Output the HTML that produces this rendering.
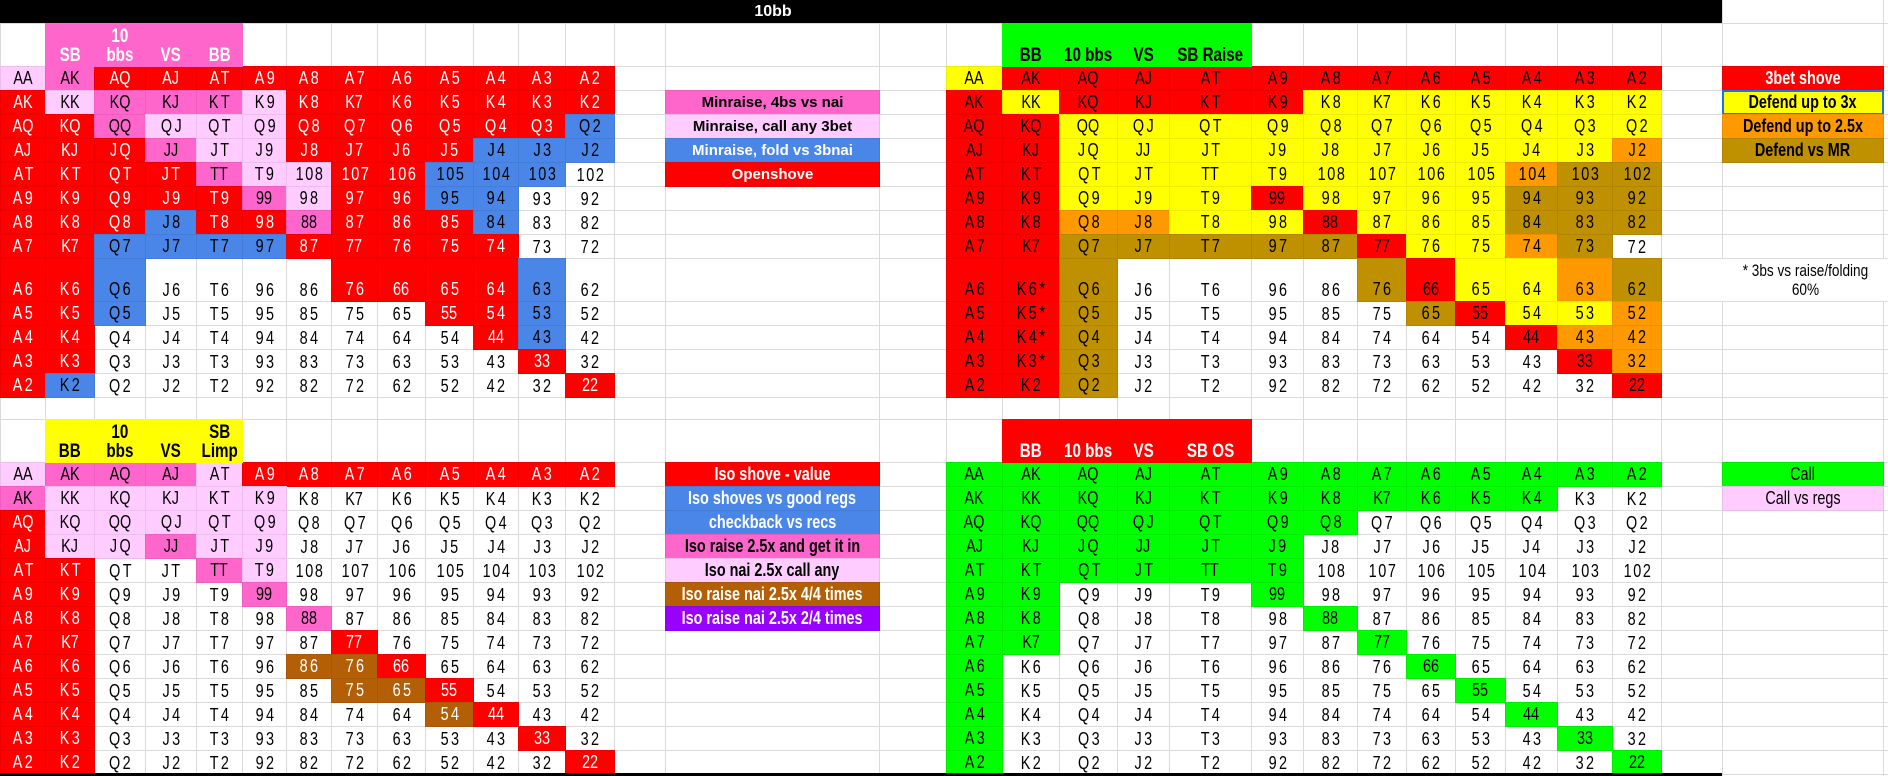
<!DOCTYPE html>
<html><head><meta charset="utf-8"><title>10bb ranges</title>
<style>
html,body{margin:0;padding:0;background:#fff;}
#sheet{position:relative;width:1888px;height:776px;overflow:hidden;background:#fff;font-family:"Liberation Sans",Arial,sans-serif;}
.c{position:absolute;box-sizing:border-box;display:flex;align-items:flex-end;justify-content:center;overflow:hidden;white-space:nowrap;}
.c span{display:inline-block;transform:scaleX(0.8);transform-origin:center bottom;}
.gl{position:absolute;background:#dadada;}
.lg{position:absolute;box-sizing:border-box;display:flex;align-items:center;justify-content:center;white-space:nowrap;}
</style></head>
<body>
<div id="sheet"></div>
<script>
const X = [0,45,93.6,145,195.8,242,286,330.5,377,425,473,518,565,613.6,665,879,946,1002,1059,1117,1168.5,1251,1303,1357,1406,1454.5,1505,1557,1612,1661,1722,1883,1888];
const TOPROWS = [66,90,114,138,162,186,210,234,258,301,325,349,373,397];
const BOTROWS = [461.7,485.7,509.7,533.7,557.7,581.7,605.7,629.7,653.7,677.7,701.7,725.7,749.7,773.7];
const HLINES = [23,66,90,114,138,162,186,210,234,258,301,325,349,373,397,418.7,461.7,485.7,509.7,533.7,557.7,581.7,605.7,629.7,653.7,677.7,701.7,725.7,749.7,773.7];

const LABELS = [
"AA AK AQ AJ AT A9 A8 A7 A6 A5 A4 A3 A2",
"AK KK KQ KJ KT K9 K8 K7 K6 K5 K4 K3 K2",
"AQ KQ QQ QJ QT Q9 Q8 Q7 Q6 Q5 Q4 Q3 Q2",
"AJ KJ JQ JJ JT J9 J8 J7 J6 J5 J4 J3 J2",
"AT KT QT JT TT T9 108 107 106 105 104 103 102",
"A9 K9 Q9 J9 T9 99 98 97 96 95 94 93 92",
"A8 K8 Q8 J8 T8 98 88 87 86 85 84 83 82",
"A7 K7 Q7 J7 T7 97 87 77 76 75 74 73 72",
"A6 K6 Q6 J6 T6 96 86 76 66 65 64 63 62",
"A5 K5 Q5 J5 T5 95 85 75 65 55 54 53 52",
"A4 K4 Q4 J4 T4 94 84 74 64 54 44 43 42",
"A3 K3 Q3 J3 T3 93 83 73 63 53 43 33 32",
"A2 K2 Q2 J2 T2 92 82 72 62 52 42 32 22"];

const TL = ["LPRRRRRRRRRRR","RLPPPLRRRRRRR","RRPLLLRRRRRRB","RRRPLLRRRRBBB","RRRRPLLRRBBBW","RRRRRPLRRBBWW","RRRBRRPRRRBWW","RRBBBBRRRRRWW","RRBWWWWRRRRBW","RRBWWWWWWRRBW","RRWWWWWWWWRBW","RRWWWWWWWWWRW","RBWWWWWWWWWWR"];
const TR = ["YRRRRRRRRRRRR","RYRRRRYYYYYYY","RRYYYYYYYYYYY","RRYYYYYYYYYYO","RRYYYYYYYYOGG","RRYYYRYYYYGGG","RROOYYRYYYGGG","RRGGGGGRYYOGW","RRGWWWWGRYYOG","RRGWWWWWGRYYO","RRGWWWWWWWROO","RRGWWWWWWWWRO","RRGWWWWWWWWWR"];
const BL = ["LPPPLRRRRRRRR","PLLLLLWWWWWWW","RLLLLLWWWWWWW","RLLPLLWWWWWWW","RRWWPLWWWWWWW","RRWWWPWWWWWWW","RRWWWWPWWWWWW","RRWWWWWRWWWWW","RRWWWWNNRWWWW","RRWWWWWNNRWWW","RRWWWWWWWNRWW","RRWWWWWWWWWRW","RRWWWWWWWWWWR"];
const BR = ["VVVVVVVVVVVVV","VVVVVVVVVVVWW","VVVVVVVWWWWWW","VVVVVVWWWWWWW","VVVVVVWWWWWWW","VVWWWVWWWWWWW","VVWWWWVWWWWWW","VVWWWWWVWWWWW","VWWWWWWWVWWWW","VWWWWWWWWVWWW","VWWWWWWWWWVWW","VWWWWWWWWWWVW","VWWWWWWWWWWWV"];
const STARRED = ["K6","K5","K4","K3"];

const FILL = {R:'#ff0000',P:'#ff66cc',L:'#ffccff',B:'#4a86e8',Y:'#ffff00',O:'#ff9900',G:'#bf9000',V:'#00ff00',N:'#b45f06'};
const COMPACT = ["AA","KK","QQ","JJ","TT","99","88","77","66","55","44","33","22","AK","AQ","KQ","AJ","KJ","K7"];

const sheet = document.getElementById('sheet');

X.forEach(function(x){
  const v = document.createElement('div');
  v.className='gl';
  
  
  v.style.left=x+'px'; v.style.top='0px'; v.style.width='1px'; v.style.height='776px';
  sheet.appendChild(v);
});
HLINES.forEach(function(y){
  const h = document.createElement('div');
  h.className='gl';
  
  
  h.style.left='0px'; h.style.top=y+'px'; h.style.width='1888px'; h.style.height='1px';
  sheet.appendChild(h);
});

function box(x0,x1,y0,y1,bg){
  const d=document.createElement('div');
  d.className='c';
  d.style.left=x0+'px'; d.style.top=y0+'px';
  d.style.width=(x1-x0+1)+'px'; d.style.height=(y1-y0+1)+'px';
  if(bg){ d.style.background=bg; d.style.border='1px solid rgba(0,0,0,0.07)'; }
  sheet.appendChild(d);
  return d;
}

function drawGrid(map, colOff, rows, redText, brownText, stars, gridName){
  for(let r=0;r<13;r++){
    const labs = LABELS[r].split(' ');
    for(let c=0;c<13;c++){
      const code = map[r][c];
      const bg = FILL[code] || null;
      const d = box(X[colOff+c], X[colOff+c+1], rows[r], rows[r+1], bg);
      
      
      let t = labs[c];
      let color = '#000';
      if(code==='R' && redText) color='#fff';
      if(code==='N' && brownText) color='#fff';
      d.style.color=color;
      d.style.fontSize='18px';
      d.style.paddingBottom='1px';
      const s=document.createElement('span');
      if(!COMPACT.includes(t)){ s.style.letterSpacing=(t.length===3?'2px':'3px'); s.style.marginRight='-3px'; }
      if(stars && c===1 && STARRED.includes(labs[c])) t = t + '*';
      s.textContent=t;
      d.appendChild(s);
    }
  }
}
drawGrid(TL, 0, TOPROWS, true, false, false, 'sb-open');
drawGrid(TR, 16, TOPROWS, false, false, true, 'bb-vs-raise');
drawGrid(BL, 0, BOTROWS, true, true, false, 'bb-vs-limp');
drawGrid(BR, 16, BOTROWS, false, false, false, 'bb-vs-shove');

function header(colOff, y0, y1, bg, color, texts, name){
  for(let i=0;i<4;i++){
    const d = box(X[colOff+i], X[colOff+i+1], y0, y1, bg);
    
    
    d.style.border='none';
    d.style.color=color; d.style.fontWeight='bold'; d.style.fontSize='19px';
    d.style.lineHeight='19px'; d.style.textAlign='center'; d.style.paddingBottom='2px';
    const s=document.createElement('span');
    s.innerHTML=texts[i];
    d.appendChild(s);
  }
}
header(1, 23, 66, '#ff66cc', '#fff', ['SB','10<br>bbs','VS','BB'], 'sb-open-header');
header(17, 23, 66, '#00ff00', '#000', ['BB','10 bbs','VS','SB Raise'], 'bb-vs-raise-header');
header(1, 418.7, 461.7, '#ffff00', '#000', ['BB','10<br>bbs','VS','SB<br>Limp'], 'bb-vs-limp-header');
header(17, 418.7, 461.7, '#ff0000', '#fff', ['BB','10 bbs','VS','SB OS'], 'bb-vs-shove-header');

function legend(x0,x1,y0,y1,bg,color,text,size,narrow,bold,name){
  const d=document.createElement('div');
  d.className='lg';
  
  
  d.style.left=x0+'px'; d.style.top=y0+'px'; d.style.width=(x1-x0+1)+'px'; d.style.height=(y1-y0+1)+'px';
  d.style.background=bg; d.style.color=color; d.style.fontSize=size+'px';
  d.style.fontWeight=bold?'bold':'normal';
  d.style.border='1px solid rgba(0,0,0,0.08)';
  const s=document.createElement('span');
  s.style.display='inline-block';
  if(narrow) s.style.transform='scaleX(0.8)';
  s.textContent=text;
  d.appendChild(s);
  sheet.appendChild(d);
  return d;
}
legend(665,879,90,114,'#ff66cc','#000','Minraise, 4bs vs nai',15,false,true,'legend-minraise-4bet');
legend(665,879,114,138,'#ffccff','#000','Minraise, call any 3bet',15,false,true,'legend-minraise-call');
legend(665,879,138,162,'#4a86e8','#fff','Minraise, fold vs 3bnai',15,false,true,'legend-minraise-fold');
legend(665,879,162,186,'#ff0000','#fff','Openshove',15,false,true,'legend-openshove');

legend(665,879,461.7,485.7,'#ff0000','#fff','Iso shove - value',18,true,true,'legend-iso-shove');
legend(665,879,485.7,509.7,'#4a86e8','#fff','Iso shoves vs good regs',18,true,true,'legend-iso-shove-regs');
legend(665,879,509.7,533.7,'#4a86e8','#fff','checkback vs recs',18,true,true,'legend-checkback');
legend(665,879,533.7,557.7,'#ff66cc','#000','Iso raise 2.5x and get it in',18,true,true,'legend-iso-raise-get-in');
legend(665,879,557.7,581.7,'#ffccff','#000','Iso nai 2.5x call any',18,true,true,'legend-iso-nai-call');
legend(665,879,581.7,605.7,'#b45f06','#fff','Iso raise nai 2.5x 4/4 times',18,true,true,'legend-iso-4-4');
legend(665,879,605.7,629.7,'#9900ff','#fff','Iso raise nai 2.5x 2/4 times',18,true,true,'legend-iso-2-4');

legend(1722,1883,66,90,'#ff0000','#fff','3bet shove',18,true,true,'legend-3bet-shove');
const dl = legend(1722,1883,90,114,'#ffff00','#000','Defend up to 3x',18,true,true,'legend-defend-3x');
dl.style.border='2px solid #1a73e8';
legend(1722,1883,114,138,'#ff9900','#000','Defend up to 2.5x',18,true,true,'legend-defend-2-5x');
legend(1722,1883,138,162,'#bf9000','#000','Defend vs MR',18,true,true,'legend-defend-mr');
legend(1722,1883,461.7,485.7,'#00ff00','#000','Call',18,true,false,'legend-call');
legend(1722,1883,485.7,509.7,'#ffccff','#000','Call vs regs',18,true,false,'legend-call-vs-regs');

const note=document.createElement('div');
note.className='lg';


note.style.left='1722px'; note.style.top='259px'; note.style.width='166px'; note.style.height='42px';
note.style.fontSize='17px'; note.style.lineHeight='19px'; note.style.textAlign='center'; note.style.background='#fff';
note.innerHTML='<span style="display:inline-block;transform:scaleX(0.8)">* 3bs vs raise/folding<br>60%</span>';
sheet.appendChild(note);

const bar=document.createElement('div');


bar.style.cssText='position:absolute;left:0;top:0;width:1722px;height:23px;background:#000;';
sheet.appendChild(bar);
const title=document.createElement('div');


title.style.cssText='position:absolute;left:723px;top:0;width:100px;height:23px;line-height:23px;text-align:center;color:#fff;font-weight:bold;font-size:16px;';
title.textContent='10bb';
sheet.appendChild(title);
const bot=document.createElement('div');


bot.style.cssText='position:absolute;left:0;top:773px;width:1722px;height:3px;background:#000;';
sheet.appendChild(bot);
</script>
</body></html>
